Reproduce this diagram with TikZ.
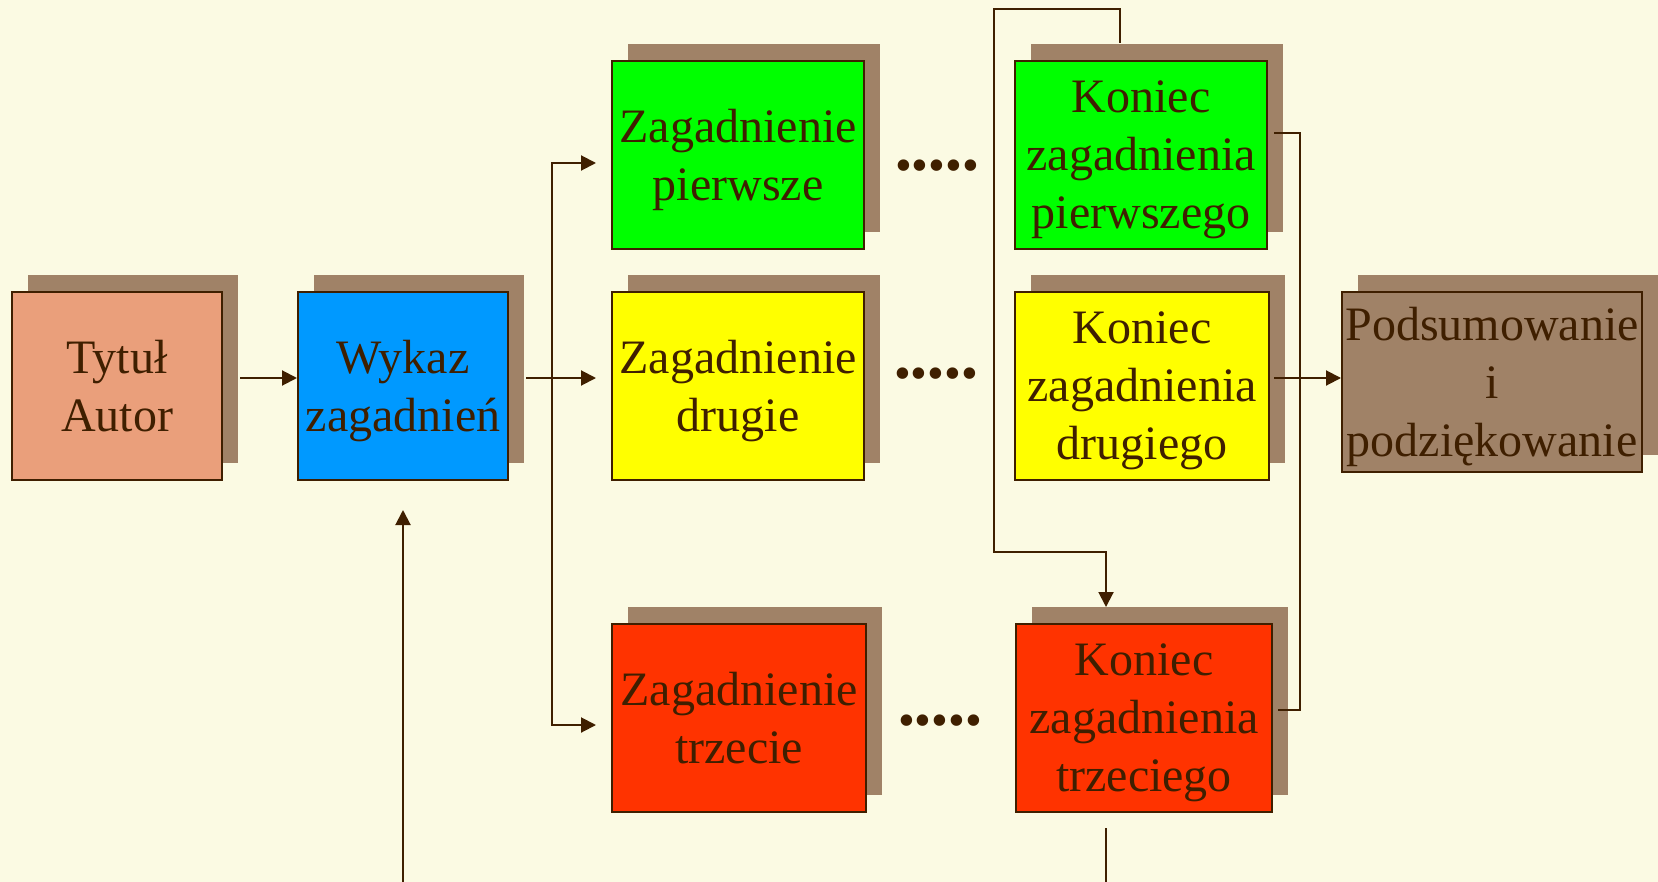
\documentclass[tikz,border=0pt]{standalone}
\usepackage{fontspec}
\setmainfont{Liberation Serif}
\usepackage{xcolor}
\usepackage{tikz}
\usetikzlibrary{backgrounds}
\usetikzlibrary{arrows.meta,positioning,shadows}

\definecolor{cream}{HTML}{FBFAE3}
\definecolor{shadowbrown}{HTML}{A08267}
\definecolor{darkbrown}{HTML}{3F1F00}
\definecolor{salmon}{HTML}{EA9F7B}
\definecolor{skyblue}{HTML}{0099FF}
\definecolor{topicgreen}{HTML}{00FF00}
\definecolor{topicyellow}{HTML}{FFFF00}
\definecolor{topicred}{HTML}{FF3300}

\begin{document}
\begin{tikzpicture}
            [x=0.5pt,y=-0.5pt,
             box node/.style={rectangle,draw=darkbrown,line width=1pt,inner sep=0pt,minimum height=94pt,align=center,text=darkbrown,font=\fontsize{24}{29}\selectfont,text depth=-5pt,
               general shadow={draw=none,fill=shadowbrown,opacity=1,shadow xshift=8pt,shadow yshift=8.5pt}},
             dots node/.style={inner sep=0pt,text=darkbrown,font=\fontsize{24}{29}\selectfont},
             line/.style={draw=darkbrown,line width=1pt},
             conn/.style={line,-{Triangle[length=7.5pt,width=7.5pt]}},
             background rectangle/.style={fill=cream}, inner frame sep=0pt, show background rectangle]
            \useasboundingbox (0,0) rectangle (1658,882);
            % boxes
            \node[box node, fill=salmon, minimum width=105pt] (tytul) at (117,386) {Tytuł\\Autor};
            \node[box node, fill=skyblue, minimum width=105pt] (wykaz) at (403,386) {Wykaz\\zagadnień};
            \node[box node, fill=topicgreen, minimum width=126pt] (zag1) at (738,155) {Zagadnienie\\pierwsze};
            \node[box node, fill=topicyellow, minimum width=126pt] (zag2) at (738,386) {Zagadnienie\\drugie};
            \node[box node, fill=topicred, minimum width=127pt] (zag3) at (739,718) {Zagadnienie\\trzecie};
            \node[box node, fill=topicgreen, minimum width=126pt] (kon1) at (1141,155) {Koniec\\zagadnienia\\pierwszego};
            \node[box node, fill=topicyellow, minimum width=127pt] (kon2) at (1142,386) {Koniec\\zagadnienia\\drugiego};
            \node[box node, fill=topicred, minimum width=128pt] (kon3) at (1144,718) {Koniec\\zagadnienia\\trzeciego};
            \node[box node, fill=shadowbrown, minimum width=150pt, minimum height=90pt] (podsum) at (1492,382) {Podsumowanie\\i\\podziękowanie};
            % dots
            \node[dots node] (dots1) at (937,171) {•••••};
            \node[dots node] (dots2) at (936,379) {•••••};
            \node[dots node] (dots3) at (940,726) {•••••};
            % free ends
            \coordinate (bus) at (552,378);
            \coordinate (in) at (403,882);
            \coordinate (out) at (1106,882);
            \coordinate (loopt) at (994,9);
            \coordinate (loopb) at (994,552);
            \coordinate (rbus) at (1300,378);
            % connectors
            \draw[conn] ([xshift=8.5pt,yshift=4pt]tytul.east) -- ([yshift=4pt]wykaz.west);
            \draw[conn] ([xshift=8.5pt,yshift=4pt]wykaz.east) -- ([xshift=-7.5pt,yshift=4pt]zag2.west);
            \draw[conn] (bus) |- ([xshift=-7.5pt,yshift=-4pt]zag1.west);
            \draw[conn] (bus) |- ([xshift=-7.5pt,yshift=-3.5pt]zag3.west);
            \draw[conn, shorten >=14.5pt] (in) -- (wykaz.south);
            \draw[conn] ([xshift=-10.5pt,yshift=8.5pt]kon1.north) |- (loopt) -- (loopb) -| ([xshift=-19pt,yshift=8pt]kon3.north);
            \draw[line] ([xshift=3pt,yshift=11pt]kon1.east) -| (rbus) |- ([xshift=2.5pt,yshift=4pt]kon3.east);
            \draw[conn] ([xshift=2pt,yshift=4pt]kon2.east) -- ([yshift=2pt]podsum.west);
            \draw[line, shorten >=7.5pt] (out) -- (out |- kon3.south);
            \end{tikzpicture}
\end{document}
